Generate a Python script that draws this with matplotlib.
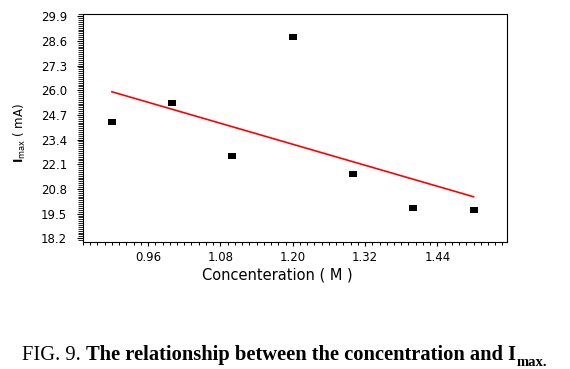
import numpy as np
import matplotlib
matplotlib.use('Agg')
import matplotlib.pyplot as plt
from matplotlib.ticker import MultipleLocator, FormatStrFormatter

# concentration (M) vs peak current I_max
concentration = [0.90, 1.00, 1.10, 1.20, 1.30, 1.40, 1.50]
i_max = [24.31, 25.31, 22.55, 28.81, 21.60, 19.78, 19.71]

x_ticks = [0.96, 1.08, 1.20, 1.32, 1.44]
y_ticks = [18.2, 19.5, 20.8, 22.1, 23.4, 24.7, 26.0, 27.3, 28.6, 29.9]

# linear fit drawn as the red line
slope, intercept = np.polyfit(concentration, i_max, 1)
fit_x = np.array([concentration[0], concentration[-1]])
fit_y = slope * fit_x + intercept

fig = plt.figure(figsize=(5.7, 3.69), dpi=100)
ax = fig.add_axes([0.1456, 0.345, 0.7444, 0.6162])

# rectangular marker, wider than tall
rect = [(-1, -0.62), (1, -0.62), (1, 0.62), (-1, 0.62), (-1, -0.62)]
ax.plot(concentration, i_max, linestyle='none', marker=rect, markersize=6,
        color='black', markeredgewidth=0)
ax.plot(fit_x, fit_y, color='#ff0000', linewidth=1.2)

ax.set_xlim(0.852, 1.556)
ax.set_ylim(18.02, 30.0)
ax.set_xticks(x_ticks)
ax.set_yticks(y_ticks)
ax.xaxis.set_minor_locator(MultipleLocator(0.012))
ax.yaxis.set_minor_locator(MultipleLocator(0.1))
ax.xaxis.set_major_formatter(FormatStrFormatter('%.2f'))
ax.yaxis.set_major_formatter(FormatStrFormatter('%.1f'))

for sp in ax.spines.values():
    sp.set_linewidth(0.8)

ax.tick_params(axis='x', which='major', direction='out', length=3, width=0.8,
               pad=3.5, labelsize=8.5)
ax.tick_params(axis='x', which='minor', direction='out', length=2, width=0.7)
ax.tick_params(axis='y', which='major', direction='out', length=4.5, width=0.8,
               pad=7, labelsize=8.5)
ax.tick_params(axis='y', which='minor', direction='out', length=3.5, width=0.6)

ax.set_xlabel('Concenteration ( M )', fontsize=10.5)
ax.xaxis.set_label_coords(0.458, -0.115)
ax.set_ylabel(r'$\mathbf{I}_{\mathrm{max}}$ ( mA)', fontsize=8.5)
ax.yaxis.set_label_coords(-0.13, 0.478)

# caption under the chart: regular "FIG. 9." then bold text
cap1 = fig.text(0.038, 0.024, 'FIG. 9.', family='Liberation Serif',
                fontsize=14.8, va='baseline')
cap2 = ax.annotate('The relationship between the concentration and I',
                   xy=(1, 0), xycoords=cap1, xytext=(4, 0),
                   textcoords='offset points', family='Liberation Serif',
                   fontsize=14.8, fontweight='bold', va='bottom',
                   annotation_clip=False)
ax.annotate('max.', xy=(1, 0), xycoords=cap2, xytext=(0.5, -3),
            textcoords='offset points', family='Liberation Serif',
            fontsize=10.5, fontweight='bold', va='bottom',
            annotation_clip=False)

fig.savefig('out.png', dpi=100)
